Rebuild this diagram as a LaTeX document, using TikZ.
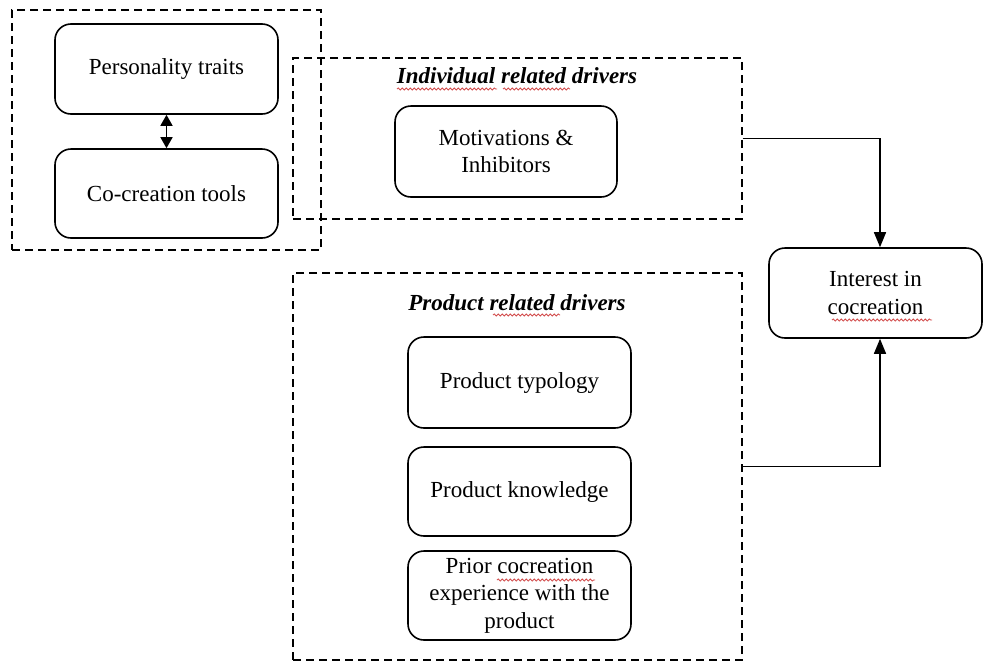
\documentclass[tikz,border=0pt]{standalone}
\usepackage{fontspec}
\setmainfont{Liberation Serif}
\usetikzlibrary{arrows.meta,calc,decorations.pathmorphing}
\begin{document}
\begin{tikzpicture}[x=1pt,y=-1pt,
  every node/.style={font=\fontsize{23}{27.5}\selectfont, align=center, inner sep=0pt},
  item/.style={draw, line width=1.6pt, rounded corners=16pt, minimum width=223pt, minimum height=90pt},
  group/.style={draw, line width=1.3pt, dash pattern=on 8pt off 5pt, minimum width=#1},
  grouptitle/.style={font=\fontsize{23}{27.5}\selectfont\bfseries\itshape},
  link/.style={line width=1.5pt, -{Triangle[length=15pt,width=12pt]}},
  squiggle/.style={draw=red!75!black, opacity=0.7, line width=0.8pt,
    decorate, decoration={snake, amplitude=1.1pt, segment length=4pt}}]
\useasboundingbox (0,0) rectangle (984,662);

% dashed groups
\node[group=309pt, minimum height=240pt] (g1) at (166.5,130) {};
\node[group=449pt, minimum height=161pt] (g2) at (517.5,138.5) {};
\node[group=449pt, minimum height=387pt] (g3) at (517.5,466.5) {};

% group titles
\node[grouptitle] (t2) at (517,76) {Individual related drivers};
\node[grouptitle] (t3) at (517,303) {Product related drivers};

% boxes
\node[item] (pt) at (166.5,69) {Personality traits};
\node[item, minimum height=89pt] (ct) at (166.5,193.5) {Co-creation tools};
\node[item, minimum width=222pt, minimum height=91pt] (mi) at (506,151.5) {Motivations \&\\Inhibitors};
\node[item, minimum width=213pt] (ic) at (875.5,293) {Interest in\\cocreation};
\node[item, minimum height=91pt] (ptyp) at (519.5,382.5) {Product typology};
\node[item, minimum height=89pt] (pk) at (519.5,491.5) {Product knowledge};
\node[item, minimum height=89pt] (pc) at (519.5,595.5) {Prior cocreation\\experience with the\\product};

% connectors
\draw[line width=1.5pt, {Triangle[length=11pt,width=12pt]}-{Triangle[length=11pt,width=12pt]}] (pt.south) -- (ct.north);
\coordinate (icn) at ($(ic.north)+(4.5,0)$);
\coordinate (ics) at ($(ic.south)+(4.5,0)$);
\draw[link] (g2.east) -| (icn);
\draw[link] (g3.east) -| (ics);

% spelling marks under words
\draw[squiggle] (397,89) -- (497,89);
\draw[squiggle] (503,89) -- (570,89);
\draw[squiggle] (493,315) -- (560,315);
\draw[squiggle] (832,320) -- (932,320);
\draw[squiggle] (497,580) -- (595,580);
\end{tikzpicture}
\end{document}
